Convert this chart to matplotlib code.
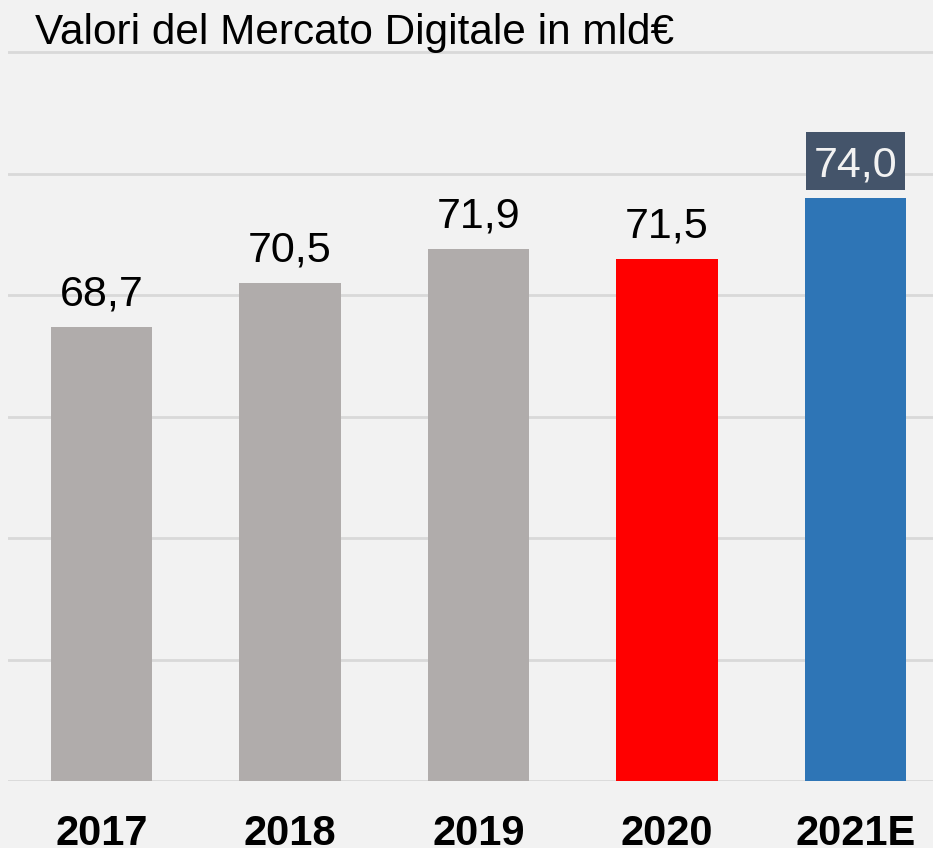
import matplotlib
matplotlib.use('Agg')
import matplotlib.pyplot as plt
from matplotlib.patches import Rectangle
from matplotlib.transforms import IdentityTransform

# data
years = ['2017', '2018', '2019', '2020', '2021E']
values = [68.7, 70.5, 71.9, 71.5, 74.0]
labels = ['68,7', '70,5', '71,9', '71,5', '74,0']
bar_colors = ['#b0acab', '#b0acab', '#b0acab', '#ff0000', '#2e75b6']
title = 'Valori del Mercato Digitale in mld€'

plt.rcParams['font.family'] = ['Liberation Sans', 'DejaVu Sans']

W, H = 933, 848
fig = plt.figure(figsize=(W / 100, H / 100), dpi=100, facecolor='#f2f2f2')
ax = fig.add_axes([8 / W, (H - 781) / H, (W - 8) / W, 781 / H])
ax.set_facecolor('#f2f2f2')

x = range(len(years))
ax.bar(x, values, width=0.536, color=bar_colors, zorder=3)

ax.set_xlim(-0.496, 4.411)
ax.set_ylim(50, 82.14)
ax.set_yticks([50, 55, 60, 65, 70, 75, 80])
ax.grid(axis='y', color='#d9d9d9', linewidth=2, zorder=0)
ax.tick_params(axis='y', left=False, labelleft=False)
ax.tick_params(axis='x', bottom=False, pad=20, labelsize=30)
ax.set_xticks(list(x))
ax.set_xticklabels(years, fontweight='bold')
for s in ax.spines.values():
    s.set_visible(False)

fs = 31
last = None
for i, (v, lab) in enumerate(zip(values, labels)):
    col = '#f2f2f2' if i == len(values) - 1 else 'black'
    t = ax.annotate(lab, (i, v), xytext=(0, 21), textcoords='offset pixels',
                    ha='center', va='baseline', fontsize=fs, color=col, zorder=6)
    last = t

fig.text(35 / W, 1 - 44 / H, title, fontsize=30.4, va='baseline', ha='left')

# dark box behind the estimate label
fig.canvas.draw()
ext = last.get_window_extent()
base = ax.transData.transform((len(values) - 1, values[-1]))[1] + 21
cap = fs * 100 / 72 * 0.716
box = Rectangle((ext.x0 - 8, base - 13), ext.width + 16, cap + 27,
                transform=IdentityTransform(), facecolor='#44546a',
                edgecolor='none', zorder=4, clip_on=False)
ax.add_artist(box)

fig.savefig('out.png', dpi=100, facecolor=fig.get_facecolor())
